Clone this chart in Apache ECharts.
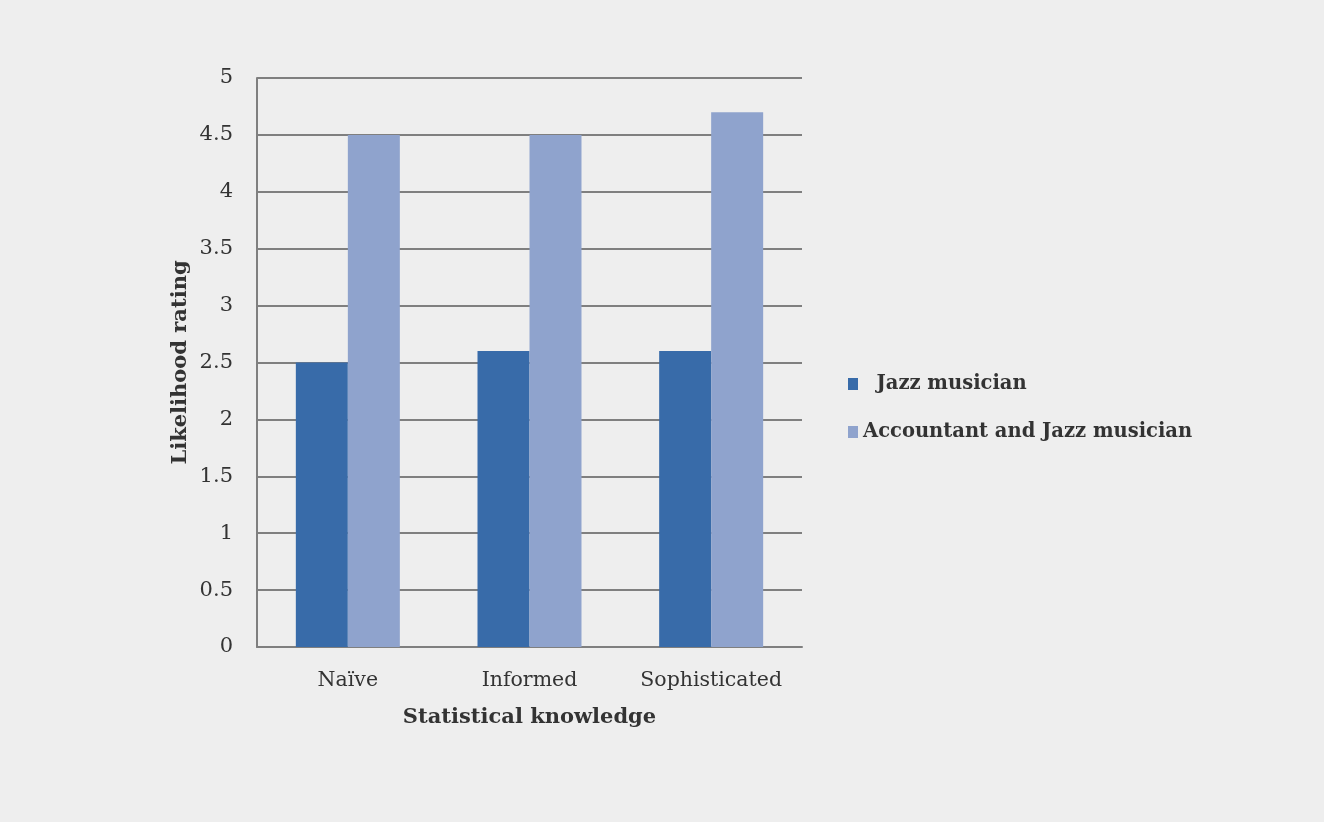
<!DOCTYPE html>
<html>
<head>
<meta charset="utf-8">
<script src="https://cdn.jsdelivr.net/npm/echarts@6/dist/echarts.min.js"></script>
<style>
html,body{margin:0;padding:0;background:#eeeeee;}
#main{width:1324px;height:822px;}
</style>
</head>
<body>
<div id="main"></div>
<script>
var categories = ['Naïve', 'Informed', 'Sophisticated'];
var jazzName = 'Jazz musician';
var accName = 'Accountant and Jazz musician';
var jazzValues = [2.5, 2.6, 2.6];
var accValues = [4.5, 4.5, 4.7];
var yTicks = {min: 0, max: 5, interval: 0.5};

var serif = "'DejaVu Serif', 'Liberation Serif', serif";
var chart = echarts.init(document.getElementById('main'));
chart.setOption({
  backgroundColor: '#eeeeee',
  animation: false,
  grid: {left: 257, right: 522, top: 78, bottom: 175},
  legend: {
    orient: 'vertical',
    left: 843,
    top: 369,
    itemWidth: 10,
    itemHeight: 12,
    itemGap: 28,
    icon: 'rect',
    data: [jazzName, accName],
    formatter: function (n) { return n === jazzName ? '  ' + n : n; },
    textStyle: {fontFamily: serif, fontSize: 19.5, fontWeight: 'bold', color: '#333333'}
  },
  xAxis: {
    type: 'category',
    data: categories,
    name: 'Statistical knowledge',
    nameLocation: 'middle',
    nameGap: 60,
    nameTextStyle: {fontFamily: serif, fontSize: 21, fontWeight: 'bold', color: '#333333'},
    axisLine: {lineStyle: {color: '#7f7f7f', width: 2}},
    axisTick: {show: false},
    axisLabel: {fontFamily: serif, fontSize: 20.5, color: '#333333', margin: 23,
                interval: 0, hideOverlap: false}
  },
  yAxis: {
    type: 'value',
    min: yTicks.min,
    max: yTicks.max,
    interval: yTicks.interval,
    name: 'Likelihood rating',
    nameLocation: 'middle',
    nameGap: 66,
    nameRotate: 90,
    nameTextStyle: {fontFamily: serif, fontSize: 21, fontWeight: 'bold', color: '#333333'},
    axisLine: {show: true, lineStyle: {color: '#7f7f7f', width: 2}},
    axisTick: {show: false},
    axisLabel: {fontFamily: serif, fontSize: 21, color: '#333333', margin: 24},
    splitLine: {lineStyle: {color: '#7f7f7f', width: 2}}
  },
  series: [
    {name: jazzName, type: 'bar', data: jazzValues, barWidth: 52, barGap: '0%',
     itemStyle: {color: '#386ba9'}},
    {name: accName, type: 'bar', data: accValues, barWidth: 52, barGap: '0%',
     itemStyle: {color: '#8fa3cd'}}
  ]
});
</script>
</body>
</html>
